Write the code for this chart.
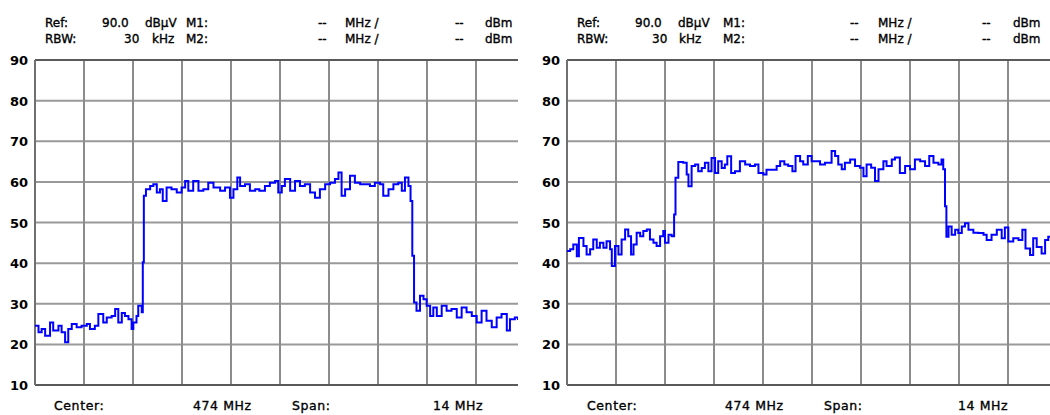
<!DOCTYPE html>
<html>
<head>
<meta charset="utf-8">
<script src="https://cdn.jsdelivr.net/npm/d3@7"></script>
<style>
  body { margin: 0; background: #fff; }
  svg text { font-family: 'DejaVu Sans', sans-serif; fill: #000; }
</style>
</head>
<body>
<div id="wrapper"></div>
<script>
// level axis ticks (dBµV) and header / footer texts
const levelTicks = [10, 20, 30, 40, 50, 60, 70, 80, 90]
const headerRow1 = ['Ref:', '90.0', 'dBµV', 'M1:', '--', 'MHz /', '--', 'dBm']
const headerRow2 = ['RBW:', '30', 'kHz', 'M2:', '--', 'MHz /', '--', 'dBm']
const footerRow = ['Center:', '474 MHz', 'Span:', '14 MHz']
const centerMHz = 474
const spanMHz = 14

// left trace: frequency (MHz) / level (dBµV)
const freqA = [
  467.0, 467.1, 467.19, 467.29, 467.43, 467.52, 467.67, 467.76, 467.86, 467.95,
  468.05, 468.19, 468.33, 468.48, 468.57, 468.71, 468.81, 468.95, 469.05, 469.19,
  469.29, 469.38, 469.48, 469.57, 469.67, 469.76, 469.81, 469.9, 469.95, 470.05,
  470.08, 470.11, 470.17, 470.29, 470.38, 470.48, 470.57, 470.65, 470.76, 470.9,
  471.05, 471.19, 471.29, 471.38, 471.52, 471.67, 471.81, 471.95, 472.1, 472.29,
  472.43, 472.57, 472.67, 472.78, 472.86, 473.0, 473.14, 473.29, 473.41, 473.57,
  473.71, 473.86, 473.95, 474.05, 474.14, 474.29, 474.43, 474.57, 474.71, 474.86,
  475.0, 475.14, 475.29, 475.43, 475.57, 475.67, 475.76, 475.86, 476.0, 476.14,
  476.29, 476.43, 476.57, 476.71, 476.86, 476.95, 477.1, 477.24, 477.38, 477.48,
  477.57, 477.67, 477.73, 477.78, 477.83, 477.9, 478.0, 478.1, 478.19, 478.29,
  478.38, 478.48, 478.62, 478.76, 478.9, 479.05, 479.19, 479.33, 479.48, 479.62,
  479.76, 479.9, 480.05, 480.19, 480.33, 480.48, 480.57, 480.71, 480.8
]
const levelA = [
  24.6, 23.0, 23.8, 22.1, 25.4, 23.4, 24.6, 23.0, 20.5, 23.8,
  25.0, 24.2, 24.6, 25.0, 23.8, 24.6, 27.5, 25.4, 26.6, 27.0,
  28.7, 25.4, 27.7, 27.0, 26.2, 23.8, 25.4, 27.0, 29.5, 27.9,
  40.2, 56.6, 58.2, 59.0, 59.4, 57.4, 58.2, 55.3, 58.6, 58.2,
  57.4, 58.6, 60.2, 57.8, 60.2, 57.8, 58.2, 59.8, 58.6, 57.8,
  58.6, 56.1, 58.2, 61.1, 59.0, 59.4, 57.8, 58.2, 57.8, 59.0,
  59.8, 60.2, 57.4, 59.0, 60.7, 57.8, 60.2, 59.0, 59.4, 57.4,
  56.1, 58.2, 59.4, 59.8, 60.7, 62.3, 56.6, 58.2, 61.5, 59.8,
  59.4, 59.4, 59.0, 59.8, 59.4, 56.6, 58.2, 59.4, 59.8, 57.8,
  61.1, 59.0, 55.3, 41.8, 30.3, 28.3, 32.0, 31.1, 29.5, 27.0,
  29.1, 27.0, 29.5, 28.3, 28.7, 26.6, 29.1, 27.9, 27.0, 25.4,
  28.3, 25.8, 24.2, 26.6, 27.5, 23.4, 26.2, 26.6, 26.0
]

// right trace: frequency (MHz) / level (dBµV)
const freqB = [
  467.0, 467.09, 467.18, 467.28, 467.34, 467.47, 467.56, 467.66, 467.75, 467.85,
  467.94, 468.04, 468.13, 468.23, 468.28, 468.37, 468.47, 468.56, 468.66, 468.75,
  468.83, 468.9, 468.99, 469.09, 469.18, 469.28, 469.37, 469.47, 469.56, 469.66,
  469.75, 469.8, 469.9, 469.99, 470.06, 470.1, 470.18, 470.32, 470.42, 470.47,
  470.56, 470.66, 470.75, 470.85, 470.94, 471.04, 471.13, 471.23, 471.32, 471.42,
  471.51, 471.58, 471.69, 471.8, 471.94, 472.09, 472.23, 472.37, 472.47, 472.61,
  472.7, 472.85, 472.99, 473.09, 473.21, 473.32, 473.44, 473.53, 473.66, 473.75,
  473.88, 473.99, 474.13, 474.23, 474.37, 474.47, 474.56, 474.66, 474.75, 474.85,
  474.94, 475.09, 475.23, 475.37, 475.47, 475.56, 475.69, 475.8, 475.9, 476.04,
  476.13, 476.28, 476.37, 476.51, 476.66, 476.8, 476.94, 477.09, 477.23, 477.35,
  477.47, 477.61, 477.7, 477.75, 477.8, 477.84, 477.9, 477.99, 478.09, 478.18,
  478.28, 478.37, 478.47, 478.61, 478.75, 478.9, 478.99, 479.13, 479.28, 479.42,
  479.51, 479.61, 479.75, 479.9, 480.01, 480.1, 480.23, 480.32, 480.42, 480.56,
  480.66, 480.75, 480.85
]
const levelB = [
  43.0, 43.4, 44.6, 41.7, 46.2, 44.2, 42.1, 43.4, 45.8, 43.8,
  45.0, 43.8, 45.4, 43.4, 39.3, 44.2, 42.1, 45.8, 48.3, 46.6,
  42.1, 44.6, 47.5, 46.6, 47.9, 48.3, 45.8, 45.0, 44.2, 46.6,
  47.9, 45.0, 47.0, 46.6, 52.0, 61.0, 64.9, 64.7, 61.8, 58.9,
  63.9, 64.3, 62.6, 63.4, 64.7, 62.6, 65.9, 62.2, 65.1, 63.4,
  64.3, 66.3, 62.2, 62.6, 65.1, 64.3, 63.9, 64.3, 62.2, 61.8,
  63.0, 63.0, 63.9, 65.1, 64.3, 63.9, 62.6, 66.4, 65.1, 64.3,
  66.4, 65.1, 65.1, 64.3, 64.7, 64.7, 67.6, 66.4, 64.3, 63.1,
  64.7, 65.5, 63.9, 63.5, 61.4, 64.3, 63.5, 60.2, 63.1, 65.1,
  63.9, 65.5, 66.0, 62.2, 63.9, 63.1, 65.5, 65.1, 63.9, 66.4,
  64.7, 64.3, 65.5, 63.1, 54.0, 46.5, 49.0, 47.0, 48.2, 47.4,
  49.0, 49.8, 48.2, 47.5, 47.4, 47.0, 45.7, 47.0, 48.2, 46.1,
  48.8, 45.3, 46.1, 45.7, 48.2, 43.6, 42.0, 46.1, 44.0, 42.4,
  45.7, 46.5, 46.0
]

async function drawAnalyzer() {
  // ---------------------------------------------------
  // 1. DIMENSIONS
  // ---------------------------------------------------
  const dimensions = {
    width: 1050,
    height: 415,
    panelOffset: 532,
    plotLeft: 35,
    plotTop: 60,
    plotHeight: 325,
    divWidth: 49,
    clipWidth: 483,
  }

  const svg = d3
    .select('#wrapper')
    .append('svg')
    .attr('width', dimensions.width)
    .attr('height', dimensions.height)

  const panels = [
    {
      freq: freqA, level: levelA, id: 'a',
      headerX: [
        [45, 102, 145, 186, 318, 345, 455, 485],
        [45, 124, 152, 186, 318, 345, 455, 485],
      ],
      footerX: [54, 193, 292, 433],
    },
    {
      freq: freqB, level: levelB, id: 'b',
      headerX: [
        [45, 103, 146, 191, 318, 346, 450, 481],
        [45, 120, 147, 191, 318, 346, 450, 481],
      ],
      footerX: [55, 193, 292, 426],
    },
  ]

  // ---------------------------------------------------
  // 2. SCALES
  // ---------------------------------------------------
  const xScale = d3
    .scaleLinear()
    .domain([centerMHz - spanMHz / 2, centerMHz + spanMHz / 2])
    .range([0, dimensions.divWidth * 10])

  const yScale = d3
    .scaleLinear()
    .domain([10, 90])
    .range([dimensions.plotHeight, 0])

  const freqTicks = d3.range(11).map((i) => xScale.domain()[0] + (i * spanMHz) / 10)

  const line = d3
    .line()
    .x((d) => xScale(d[0]))
    .y((d) => yScale(d[1]))
    .curve(d3.curveStepAfter)

  // ---------------------------------------------------
  // 3. DRAW PANELS
  // ---------------------------------------------------
  panels.forEach((p, i) => {
    const panel = svg
      .append('g')
      .attr('transform', `translate(${i * dimensions.panelOffset},0)`)

    // header text
    ;[headerRow1, headerRow2].forEach((row, r) => {
      panel
        .append('g')
        .selectAll('text')
        .data(row)
        .join('text')
        .attr('x', (d, k) => p.headerX[r][k])
        .attr('y', 27 + r * 16)
        .attr('font-size', 12)
        .attr('stroke', '#000')
        .attr('stroke-width', 0.35)
        .text((d) => d)
    })

    // footer text
    panel
      .append('g')
      .selectAll('text')
      .data(footerRow)
      .join('text')
      .attr('x', (d, k) => p.footerX[k])
      .attr('y', 410)
      .attr('font-size', 12.5)
      .attr('letter-spacing', 0.6)
      .attr('stroke', '#000')
      .attr('stroke-width', 0.35)
      .text((d) => d)

    const bounds = panel
      .append('g')
      .attr('transform', `translate(${dimensions.plotLeft},${dimensions.plotTop})`)

    bounds
      .append('clipPath')
      .attr('id', `clip-${p.id}`)
      .append('rect')
      .attr('x', -2)
      .attr('y', -3)
      .attr('width', dimensions.clipWidth + 2)
      .attr('height', dimensions.plotHeight + 6)

    const plot = bounds.append('g').attr('clip-path', `url(#clip-${p.id})`)

    // grid
    plot
      .append('g')
      .selectAll('line')
      .data(levelTicks.filter((t) => t > 10 && t < 90))
      .join('line')
      .attr('x1', 0)
      .attr('x2', xScale.range()[1])
      .attr('y1', (d) => yScale(d))
      .attr('y2', (d) => yScale(d))
      .attr('stroke', '#999')
      .attr('stroke-width', 2)

    plot
      .append('g')
      .selectAll('line')
      .data(freqTicks.slice(1))
      .join('line')
      .attr('x1', (d) => xScale(d))
      .attr('x2', (d) => xScale(d))
      .attr('y1', 0)
      .attr('y2', dimensions.plotHeight)
      .attr('stroke', '#8c8c8c')
      .attr('stroke-width', 2)

    // frame: top, bottom, left
    plot
      .append('g')
      .selectAll('line')
      .data([90, 10])
      .join('line')
      .attr('x1', 0)
      .attr('x2', xScale.range()[1])
      .attr('y1', (d) => yScale(d))
      .attr('y2', (d) => yScale(d))
      .attr('stroke', '#5a5a5a')
      .attr('stroke-width', 2)

    plot
      .append('line')
      .attr('x1', xScale(freqTicks[0]))
      .attr('x2', xScale(freqTicks[0]))
      .attr('y1', yScale(90))
      .attr('y2', yScale(10))
      .attr('stroke', '#707070')
      .attr('stroke-width', 2)

    // trace
    plot
      .append('path')
      .datum(p.freq.map((f, k) => [f, p.level[k]]))
      .attr('d', line)
      .attr('fill', 'none')
      .attr('stroke', '#0000ff')
      .attr('stroke-width', 2)

    // y axis labels
    bounds
      .append('g')
      .selectAll('text')
      .data(levelTicks)
      .join('text')
      .attr('x', -7)
      .attr('y', (d) => yScale(d) + 5)
      .attr('text-anchor', 'end')
      .attr('font-size', 13)
      .attr('font-weight', 'bold')
      .text((d) => d)
  })
}

drawAnalyzer()
</script>
</body>
</html>
